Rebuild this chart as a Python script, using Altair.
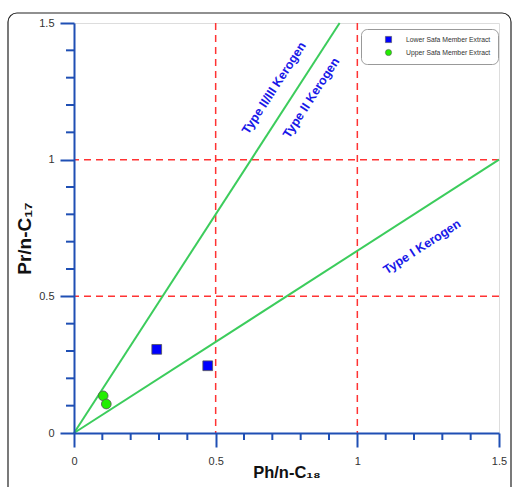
import altair as alt
import pandas as pd

# --- data -------------------------------------------------------------
groups = ["Lower Safa Member Extract", "Lower Safa Member Extract",
          "Upper Safa Member Extract", "Upper Safa Member Extract"]
ph_c18 = [0.292, 0.472, 0.103, 0.114]
pr_c17 = [0.306, 0.246, 0.136, 0.106]

# kerogen boundary lines (start/end points)
line_names = ["Type I", "Type I", "Type II", "Type II"]
line_x = [0.0, 1.5, 0.0, 0.9375]
line_y = [0.0, 1.0, 0.0, 1.5]

# dashed reference lines
ref_x = [0.5, 1.0]
ref_y = [0.5, 1.0]

# kerogen zone labels
label_text = ["Type II/III Kerogen", "Type II Kerogen", "Type I Kerogen"]
label_x = [0.706, 0.837, 1.228]
label_y = [1.262, 1.226, 0.681]
label_angle = [303, 303, 327]

# axis ticks
major_ticks = [0, 0.5, 1, 1.5]
minor_ticks = [0.1, 0.2, 0.3, 0.4, 0.6, 0.7, 0.8, 0.9, 1.1, 1.2, 1.3, 1.4]

BLUE_AXIS = "#1f4fb4"
FONT = "Liberation Sans"

pts = pd.DataFrame({"group": groups, "x": ph_c18, "y": pr_c17})
lines = pd.DataFrame({"name": line_names, "x": line_x, "y": line_y})
refx = pd.DataFrame({"v": ref_x})
refy = pd.DataFrame({"v": ref_y})
labels = pd.DataFrame({"text": label_text, "x": label_x, "y": label_y,
                       "angle": label_angle})
minors = pd.DataFrame({"v": minor_ticks})

xscale = alt.Scale(domain=[0, 1.5], nice=False, zero=False)
yscale = alt.Scale(domain=[0, 1.5], nice=False, zero=False)

x_axis = alt.Axis(values=major_ticks, format="~g", grid=False,
                  tickSize=14, tickWidth=2, tickColor=BLUE_AXIS,
                  domainColor=BLUE_AXIS, domainWidth=2,
                  labelFontSize=11, labelColor="#333", labelFont=FONT,
                  labelPadding=8, labelFlush=False,
                  title="Ph/n-C₁₈", titleFontSize=16.5, titleFont=FONT,
                  titleFontWeight="bold", titleColor="#111", titlePadding=-2,
                  zindex=1)
y_axis = alt.Axis(values=major_ticks, format="~g", grid=False,
                  tickSize=14, tickWidth=2, tickColor=BLUE_AXIS,
                  domainColor=BLUE_AXIS, domainWidth=2,
                  labelFontSize=11, labelColor="#333", labelFont=FONT,
                  labelPadding=6, labelFlush=False,
                  title="Pr/n-C₁₇", titleFontSize=19, titleFont=FONT,
                  titleFontWeight="bold", titleColor="#111", titlePadding=4,
                  titleY=215,
                  zindex=1)

# outer rounded frame around the figure
frame = alt.Chart(pd.DataFrame({"k": [0]})).mark_rect(
    fillOpacity=0, stroke="#222", strokeWidth=1.2, cornerRadius=9
).encode(x=alt.value(-66), x2=alt.value(437), y=alt.value(-10), y2=alt.value(480))

vlines = alt.Chart(refx).mark_rule(
    color="#ff3333", strokeDash=[7, 5], strokeWidth=1.5
).encode(x=alt.X("v:Q", scale=xscale, axis=x_axis))

hlines = alt.Chart(refy).mark_rule(
    color="#ff3333", strokeDash=[7, 5], strokeWidth=1.5
).encode(y=alt.Y("v:Q", scale=yscale, axis=y_axis))

green = alt.Chart(lines).mark_line(color="#3ccc5c", strokeWidth=2).encode(
    x=alt.X("x:Q", scale=xscale, axis=x_axis),
    y=alt.Y("y:Q", scale=yscale, axis=y_axis),
    detail="name:N",
)

texts = alt.Chart(labels).mark_text(
    font=FONT, fontSize=12.5, fontWeight="bold", color="#1818e8",
    align="center", baseline="middle"
).encode(
    x=alt.X("x:Q", scale=xscale, axis=x_axis),
    y=alt.Y("y:Q", scale=yscale, axis=y_axis),
    text="text:N",
    angle=alt.Angle("angle:Q", scale=None),
)

x_minor = alt.Chart(minors).mark_rule(color=BLUE_AXIS, strokeWidth=2).encode(
    x=alt.X("v:Q", scale=xscale, axis=x_axis),
    y=alt.value(410), y2=alt.value(417),
)
y_minor = alt.Chart(minors).mark_rule(color=BLUE_AXIS, strokeWidth=2).encode(
    y=alt.Y("v:Q", scale=yscale, axis=y_axis),
    x=alt.value(0), x2=alt.value(-8),
)

points = alt.Chart(pts).mark_point(
    filled=True, opacity=1, stroke="#555", strokeWidth=0.8, size=95
).encode(
    x=alt.X("x:Q", scale=xscale, axis=x_axis),
    y=alt.Y("y:Q", scale=yscale, axis=y_axis),
    fill=alt.Fill("group:N",
                  scale=alt.Scale(domain=["Lower Safa Member Extract",
                                          "Upper Safa Member Extract"],
                                  range=["#0000ff", "#22ee00"]),
                  legend=alt.Legend(
                      title=None, orient="none", legendX=287, legendY=6,
                      fillColor="white", strokeColor="#999", cornerRadius=6,
                      padding=7, labelFontSize=6.8, labelColor="#333",
                      labelFont=FONT, symbolSize=38, rowPadding=4,
                      symbolOffset=17, labelOffset=14,
                      symbolStrokeColor="#555", symbolStrokeWidth=0.6)),
    shape=alt.Shape("group:N",
                    scale=alt.Scale(domain=["Lower Safa Member Extract",
                                            "Upper Safa Member Extract"],
                                    range=["square", "circle"])),
)

chart = alt.layer(
    frame, vlines, hlines, green, texts, x_minor, y_minor, points
).properties(
    width=425, height=410,
    padding={"left": 74, "top": 23, "right": 13, "bottom": 54},
    autosize=alt.AutoSizeParams(type="none"),
).configure_view(
    stroke=BLUE_AXIS, strokeWidth=2
).configure(background="white")

chart.save("out.html", embed_options={"renderer": "svg", "actions": False})
